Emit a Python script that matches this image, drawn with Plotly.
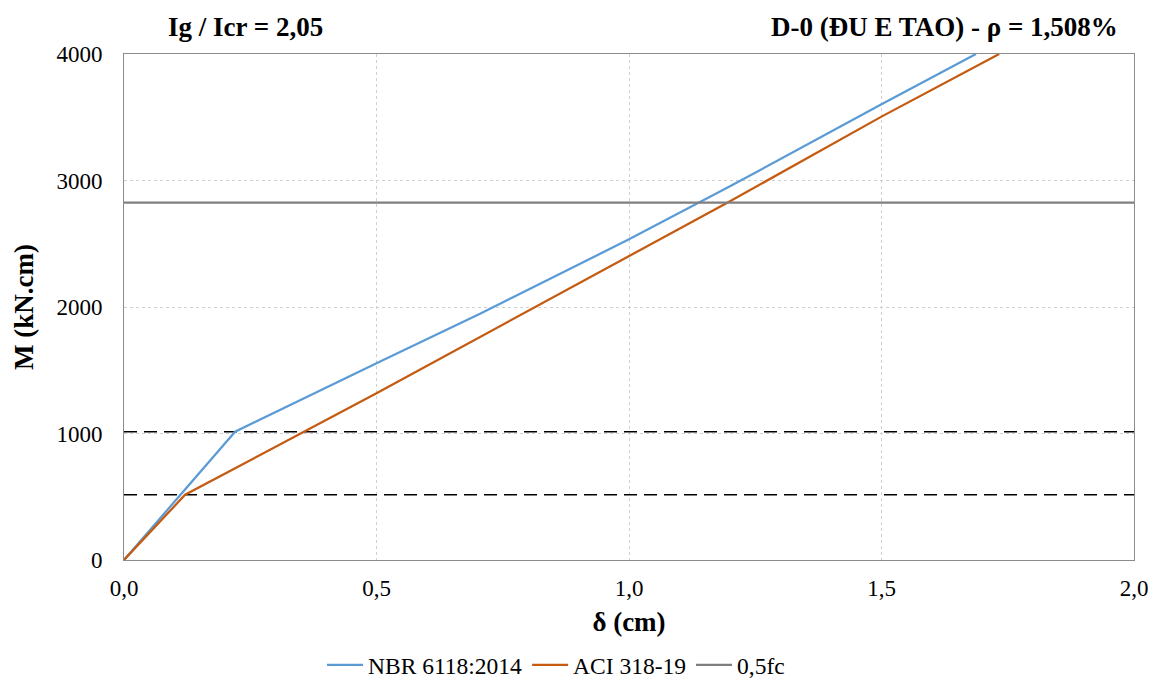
import plotly.graph_objects as go

# Data
nbr_x = [0.0, 0.220, 0.50, 0.705, 1.00, 1.20, 1.50, 1.687]
nbr_y = [0, 1014, 1555, 1946, 2535, 2954, 3602, 4000]
aci_x = [0.0, 0.121, 0.50, 0.705, 1.00, 1.20, 1.50, 1.733]
aci_y = [0, 516, 1318, 1762, 2398, 2836, 3505, 4000]
fc_x = [0.0, 2.0]
fc_y = [2825, 2825]
mr_level = 1014
half_mr_level = 516

x_ticks = [0.0, 0.5, 1.0, 1.5, 2.0]
x_labels = ["0,0", "0,5", "1,0", "1,5", "2,0"]
y_ticks = [0, 1000, 2000, 3000, 4000]

FONT = "Liberation Serif"

fig = go.Figure()
for lvl in [mr_level, half_mr_level]:
    fig.add_trace(go.Scatter(x=fc_x, y=[lvl, lvl], mode="lines",
                             line=dict(color="black", width=1.3, dash="13px,7px"),
                             showlegend=False, hoverinfo="skip"))
fig.add_trace(go.Scatter(x=nbr_x, y=nbr_y, mode="lines", name="NBR 6118:2014",
                         line=dict(color="#5B9BD5", width=2.25)))
fig.add_trace(go.Scatter(x=aci_x, y=aci_y, mode="lines", name="ACI 318-19",
                         line=dict(color="#C55A11", width=2.25)))
fig.add_trace(go.Scatter(x=fc_x, y=fc_y, mode="lines", name="0,5fc",
                         line=dict(color="#7F7F7F", width=2.25)))

pw = 1155 - 124 - 21
ph = 682 - 54 - 122

fig.update_layout(
    width=1155, height=682,
    margin=dict(l=124, r=21, t=54, b=122, autoexpand=False),
    paper_bgcolor="white", plot_bgcolor="white",
    font=dict(family=FONT, size=22, color="black"),
    showlegend=True,
    legend=dict(orientation="h", x=(556 - 124) / pw, xanchor="center",
                y=-(665 - 560) / ph, yanchor="middle",
                font=dict(family=FONT, size=23.5), itemwidth=36, tracegroupgap=0,
                traceorder="normal"),
    xaxis=dict(range=[0, 2], tickvals=x_ticks, ticktext=x_labels,
               showgrid=True, gridcolor="#D0D0D0", griddash="dot", gridwidth=1,
               showline=True, linecolor="#8C8C8C", linewidth=1, mirror=True,
               zeroline=False, ticks="", ticklabelstandoff=7,
               tickfont=dict(family=FONT, size=23),
               title=dict(text="<b>δ (cm)</b>", font=dict(family=FONT, size=27), standoff=12)),
    yaxis=dict(range=[0, 4000], tickvals=y_ticks,
               showgrid=True, gridcolor="#D0D0D0", griddash="dot", gridwidth=1,
               showline=True, linecolor="#8C8C8C", linewidth=1, mirror=True,
               zeroline=False, ticks="", ticklabelstandoff=16,
               tickfont=dict(family=FONT, size=23),
               title=dict(text="<b>M (kN.cm)</b>", font=dict(family=FONT, size=27), standoff=14)),
    annotations=[
        dict(text="<b>Ig / Icr = 2,05</b>", xref="paper", yref="paper",
             x=(245 - 124) / pw, y=(560 - 27) / ph, xanchor="center", yanchor="middle",
             showarrow=False, font=dict(family=FONT, size=27)),
        dict(text="<b>D-0 (ĐU E TAO) - ρ = 1,508%</b>", xref="paper", yref="paper",
             x=(1120 - 124) / pw, y=(560 - 27) / ph, xanchor="right", yanchor="middle",
             showarrow=False, font=dict(family=FONT, size=27)),
    ],
)

fig.write_html("out.html")
